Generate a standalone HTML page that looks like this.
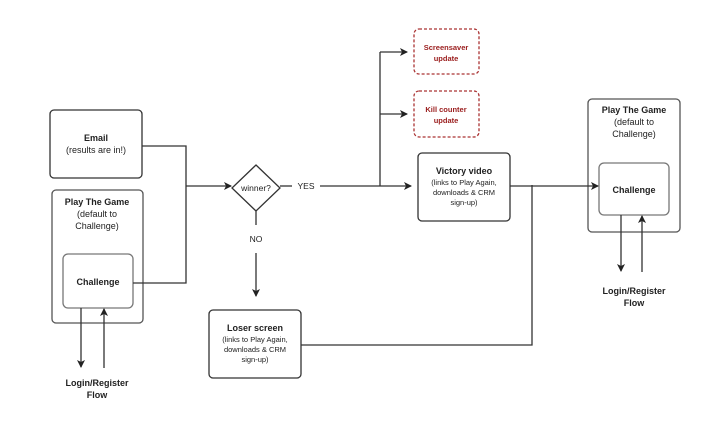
<!DOCTYPE html>
<html><head><style>
body{margin:0;background:#fff;}
svg text{font-family:"Liberation Sans",sans-serif;}
</style></head><body>
<svg width="717" height="436" viewBox="0 0 717 436" xmlns="http://www.w3.org/2000/svg">
<defs><marker id="a" markerWidth="8" markerHeight="8" refX="7" refY="4" orient="auto" markerUnits="userSpaceOnUse"><path d="M0,0 L8,4 L0,8 L2,4 z" fill="#222"/></marker></defs>
<g fill="none" stroke="#333" stroke-width="1.3">
<rect x="50" y="110" width="92" height="68" rx="4"/>
<rect x="52" y="190" width="91" height="133" rx="4" stroke="#555"/>
<rect x="63" y="254" width="70" height="54" rx="5" stroke="#777"/>
<rect x="209" y="310" width="92" height="68" rx="4"/>
<rect x="418" y="153" width="92" height="68" rx="4"/>
<rect x="588" y="99" width="92" height="133" rx="4" stroke="#555"/>
<rect x="599" y="163" width="70" height="52" rx="5" stroke="#777"/>
<rect x="414" y="29" width="65" height="45" rx="5" stroke="#a33" stroke-dasharray="3,2"/>
<rect x="414" y="91" width="65" height="46" rx="5" stroke="#a33" stroke-dasharray="3,2"/>
<path d="M256,165 L280,188 L256,211 L232,188 Z"/>
<path d="M142,146 H186 V283 H133"/>
<path d="M186,186 H231" marker-end="url(#a)"/>
<path d="M280,186 H292"/>
<path d="M320,186 H380"/>
<path d="M380,52 V186"/>
<path d="M380,52 H407" marker-end="url(#a)"/>
<path d="M380,114 H407" marker-end="url(#a)"/>
<path d="M380,186 H411" marker-end="url(#a)"/>
<path d="M256,211 V225"/>
<path d="M256,253 V296" marker-end="url(#a)"/>
<path d="M301,345 H532 V185"/>
<path d="M510,186 H598" marker-end="url(#a)"/>
<path d="M621,215 V271" marker-end="url(#a)"/>
<path d="M642,272 V216" marker-end="url(#a)"/>
<path d="M81,308 V367" marker-end="url(#a)"/>
<path d="M104,368 V309" marker-end="url(#a)"/>
</g>
<g font-size="9" fill="#222" text-anchor="middle">
<text x="96" y="141" font-weight="bold">Email</text>
<text x="96" y="153">(results are in!)</text>
<text x="97" y="205" font-weight="bold">Play The Game</text>
<text x="97" y="217">(default to</text>
<text x="97" y="229">Challenge)</text>
<text x="98" y="285" font-weight="bold">Challenge</text>
<text x="97" y="386" font-weight="bold">Login/Register</text>
<text x="97" y="398" font-weight="bold">Flow</text>
<text x="256" y="191" font-size="8.5">winner?</text>
<text x="306" y="189" font-size="8.5">YES</text>
<text x="256" y="242" font-size="8.5">NO</text>
<text x="255" y="331" font-weight="bold">Loser screen</text>
<text x="255" y="342" font-size="7.5">(links to Play Again,</text>
<text x="255" y="352" font-size="7.5">downloads &amp; CRM</text>
<text x="255" y="362" font-size="7.5">sign-up)</text>
<text x="464" y="174" font-weight="bold">Victory video</text>
<text x="464" y="185" font-size="7.5">(links to Play Again,</text>
<text x="464" y="195" font-size="7.5">downloads &amp; CRM</text>
<text x="464" y="205" font-size="7.5">sign-up)</text>
<text x="446" y="50" font-size="7.5" font-weight="bold" fill="#9a1c1c">Screensaver</text>
<text x="446" y="61" font-size="7.5" font-weight="bold" fill="#9a1c1c">update</text>
<text x="446" y="112" font-size="7.5" font-weight="bold" fill="#9a1c1c">Kill counter</text>
<text x="446" y="123" font-size="7.5" font-weight="bold" fill="#9a1c1c">update</text>
<text x="634" y="113" font-weight="bold">Play The Game</text>
<text x="634" y="125">(default to</text>
<text x="634" y="137">Challenge)</text>
<text x="634" y="193" font-weight="bold">Challenge</text>
<text x="634" y="294" font-weight="bold">Login/Register</text>
<text x="634" y="306" font-weight="bold">Flow</text>
</g>
</svg>
</body></html>
